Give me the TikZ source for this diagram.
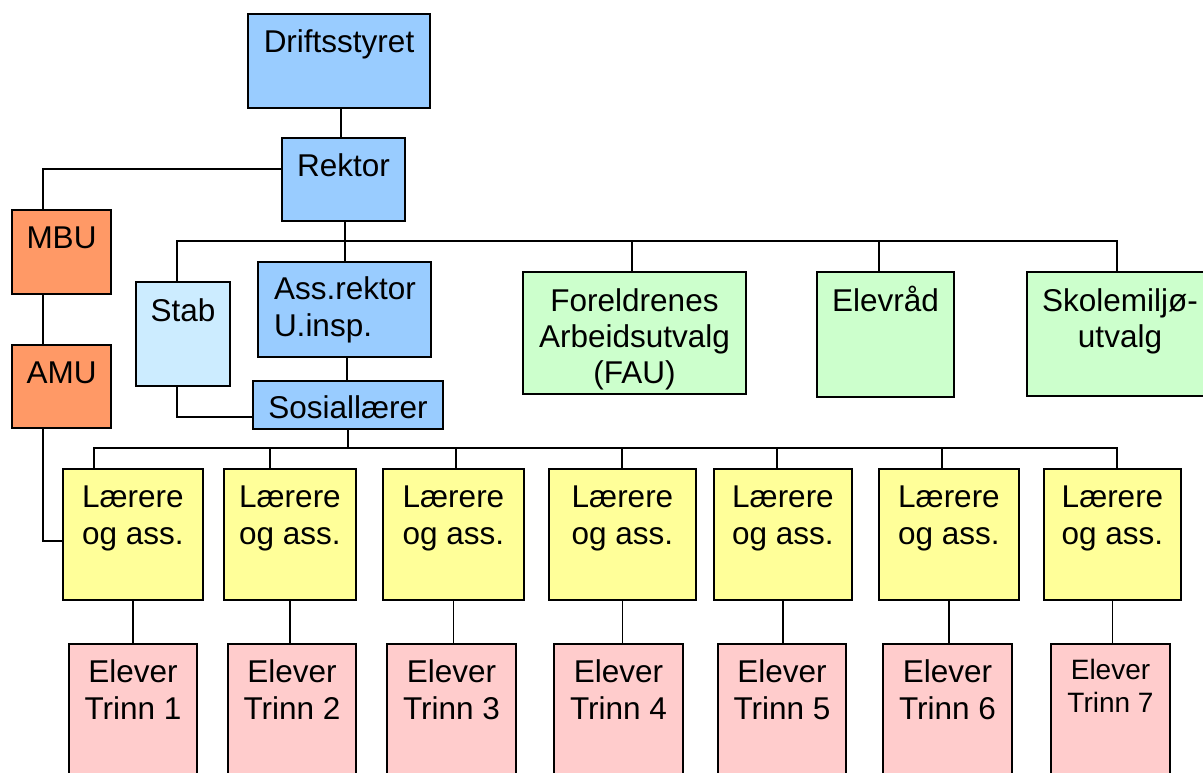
\documentclass[tikz,border=0pt]{standalone}
\usepackage{fontspec}
\setmainfont{Liberation Sans}
\definecolor{cblue}{HTML}{99CCFF}
\definecolor{cstab}{HTML}{CCECFF}
\definecolor{corange}{HTML}{FF9966}
\definecolor{cgreen}{HTML}{CCFFCC}
\definecolor{cyellow}{HTML}{FFFF99}
\definecolor{cpink}{HTML}{FFCCCC}
\newcommand\bt[3]{\parbox[t][#2pt][t]{#1pt}{\centering\rule{0pt}{38pt}#3}}
\tikzset{
  box/.style={draw=black, line width=1.9pt, anchor=north west, inner sep=0pt, outer sep=0pt,
    font=\fontsize{31.5}{37.5}\selectfont},
  conn/.style={draw=black, line width=1.7pt},
}
\begin{document}
\begin{tikzpicture}[x=1pt,y=-1pt]
\useasboundingbox (0,0) rectangle (1203,772);
\fill[white] (0,0) rectangle (1203,772);
\clip (0,0) rectangle (1203,772);

% top
\node[box, fill=cblue] (drift) at (248,14) {\bt{182}{94}{Driftsstyret}};
\node[box, fill=cblue] (rektor) at (282,138) {\bt{123}{83}{Rektor}};
\node[box, fill=corange] (mbu) at (12,210) {\bt{99}{84}{MBU}};
\node[box, fill=corange] (amu) at (12,345) {\bt{99}{83}{AMU}};
\node[box, fill=cstab] (stab) at (136,282) {\parbox[t][104pt][t]{94pt}{\centering\rule{0pt}{39pt}Stab}};
\node[box, fill=cblue] (ass) at (258,262) {\parbox[t][95pt][t]{173pt}{\raggedright\leftskip=16pt\rule{0pt}{37pt}Ass.rektor\\U.insp.}};
\node[box, fill=cblue] (sos) at (253,381) {\parbox[t][48pt][t]{190pt}{\centering\rule{0pt}{37pt}Sosiallærer}};
\node[box, fill=cgreen] (fau) at (523,272) {\parbox[t][122pt][t]{223pt}{\centering\baselineskip=36pt\rule{0pt}{39pt}Foreldrenes\\Arbeidsutvalg\\(FAU)}};
\node[box, fill=cgreen] (elev) at (817,272) {\parbox[t][125pt][t]{137pt}{\centering\rule{0pt}{39pt}Elevråd}};
\node[box, fill=cgreen] (skole) at (1027,272) {\parbox[t][124pt][t]{186pt}{\centering\baselineskip=36pt\rule{0pt}{39pt}Skolemiljø-\\utvalg}};

% teachers
\node[box, fill=cyellow] (l1) at (63,469)   {\bt{140}{131}{Lærere\\og ass.}};
\node[box, fill=cyellow] (l2) at (224,469)  {\bt{132}{131}{Lærere\\og ass.}};
\node[box, fill=cyellow] (l3) at (383,469)  {\bt{141}{131}{Lærere\\og ass.}};
\node[box, fill=cyellow] (l4) at (549,469)  {\bt{147}{131}{Lærere\\og ass.}};
\node[box, fill=cyellow] (l5) at (714,469)  {\bt{138}{131}{Lærere\\og ass.}};
\node[box, fill=cyellow] (l6) at (879,469)  {\bt{140}{131}{Lærere\\og ass.}};
\node[box, fill=cyellow] (l7) at (1044,469) {\bt{137}{131}{Lærere\\og ass.}};

% pupils
\node[box, fill=cpink] (e1) at (69,644)  {\bt{128}{160}{Elever\\Trinn 1}};
\node[box, fill=cpink] (e2) at (228,644) {\bt{128}{160}{Elever\\Trinn 2}};
\node[box, fill=cpink] (e3) at (387,644) {\bt{129}{160}{Elever\\Trinn 3}};
\node[box, fill=cpink] (e4) at (554,644) {\bt{129}{160}{Elever\\Trinn 4}};
\node[box, fill=cpink] (e5) at (718,644) {\bt{128}{160}{Elever\\Trinn 5}};
\node[box, fill=cpink] (e6) at (883,644) {\bt{129}{160}{Elever\\Trinn 6}};
\node[box, fill=cpink] (e7) at (1051,644) {\parbox[t][160pt][t]{119pt}{\centering\fontsize{28}{33}\selectfont\rule{0pt}{35pt}Elever\\Trinn 7}};

% connectors
\coordinate (d1) at ([xshift=2pt]drift.south);
\draw[conn] (d1) -- (d1 |- rektor.north);

\coordinate (r1) at ([yshift=10.5pt]rektor.west);
\coordinate (m1) at ([xshift=-18.5pt]mbu.north);
\draw[conn] (r1) -| (m1);
\coordinate (m2) at ([xshift=-18.5pt]mbu.south);
\draw[conn] (m2) -- (m2 |- amu.north);
\coordinate (a1) at ([xshift=-18.5pt]amu.south);
\coordinate (l1w) at ([yshift=-6.5pt]l1.west);
\draw[conn] (a1) |- (l1w);

\coordinate (ub) at (0,241);
\coordinate (st) at ([xshift=-6pt]stab.north);
\coordinate (fa) at ([xshift=-2.5pt]fau.north);
\coordinate (el) at ([xshift=-6.5pt]elev.north);
\coordinate (sk) at ([xshift=-3pt]skole.north);
\draw[conn] (st) |- (ub -| sk) -- (sk);
\draw[conn] (fa) -- (fa |- ub);
\draw[conn] (el) -- (el |- ub);

\coordinate (r2) at ([xshift=1.5pt]rektor.south);
\draw[conn] (r2) -- (r2 |- ass.north);
\coordinate (as) at ([xshift=2.5pt]ass.south);
\draw[conn] (as) -- (as |- sos.north);
\coordinate (st2) at ([xshift=-6pt]stab.south);
\coordinate (so) at ([yshift=-12pt]sos.west);
\draw[conn] (st2) |- (so);

\coordinate (lb) at (0,448);
\draw[conn] (sos.south) -- (sos.south |- lb);
\coordinate (t1) at ([xshift=-39pt]l1.north);
\coordinate (t2) at ([xshift=-20pt]l2.north);
\coordinate (t3) at ([xshift=2.5pt]l3.north);
\coordinate (t4) at ([xshift=-0.5pt]l4.north);
\coordinate (t5) at ([xshift=-6pt]l5.north);
\coordinate (t6) at ([xshift=-7pt]l6.north);
\coordinate (t7) at ([xshift=4.5pt]l7.north);
\draw[conn] (t1) |- (lb -| t7) -- (t7);
\foreach \i in {2,...,6} {\draw[conn] (t\i) -- (t\i |- lb);}
\foreach \i in {1,...,7} {\draw[conn] (l\i.south) -- (l\i.south |- e\i.north);}
\end{tikzpicture}
\end{document}
